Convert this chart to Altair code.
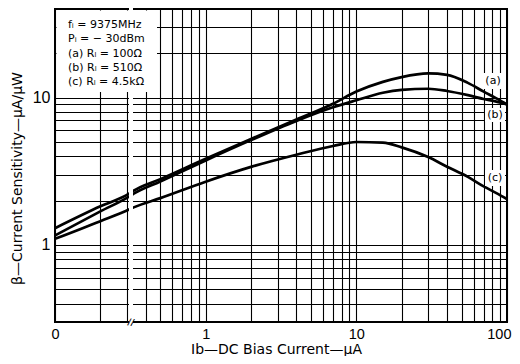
import altair as alt
import pandas as pd

# ---- data (log-log) ----
bias_ua = [0.1, 0.2, 0.31, 0.333, 0.5, 1, 2, 4, 7, 10, 15, 20, 30, 40, 55, 70, 85, 100]
curve_a = [1.30, 1.83, 2.23, 2.34, 2.80, 3.85, 5.25, 7.1, 9.1, 11.0, 12.8, 13.8, 14.6, 14.3, 12.6, 11.0, 9.9, 9.0]
curve_b = [1.16, 1.69, 2.13, 2.23, 2.70, 3.75, 5.15, 6.95, 8.6, 9.6, 10.8, 11.3, 11.5, 11.1, 10.4, 9.8, 9.4, 9.0]
curve_c = [1.10, 1.45, 1.74, 1.80, 2.08, 2.69, 3.39, 4.1, 4.7, 5.0, 4.95, 4.6, 3.95, 3.4, 2.9, 2.5, 2.25, 2.05]
series_names = ["(a)", "(b)", "(c)"]

x_grid = [0.1, 0.2, 0.3, 0.4, 0.5, 0.6, 0.7, 0.8, 0.9,
          1, 2, 3, 4, 5, 6, 7, 8, 9,
          10, 20, 30, 40, 50, 60, 70, 80, 90, 100]
y_grid = [0.4, 0.5, 0.6, 0.7, 0.8, 0.9,
          1, 2, 3, 4, 5, 6, 7, 8, 9,
          10, 20, 30]
legend_lines = ["fᵢ = 9375MHz", "Pᵢ = − 30dBm", "(a)  Rₗ = 100Ω", "(b)  Rₗ = 510Ω", "(c)  Rₗ = 4.5kΩ"]

rows = []
for name, vals in zip(series_names, [curve_a, curve_b, curve_c]):
    for xv, yv in zip(bias_ua, vals):
        rows.append({"x": xv, "y": yv, "s": name})
df = pd.DataFrame(rows)
one = pd.DataFrame({"k": [0]})

FONT = "DejaVu Sans"
W, H = 452, 313

xscale = alt.Scale(type="log", domain=[0.1, 100], nice=False)
yscale = alt.Scale(type="log", domain=[0.3, 40], nice=False)

x_axis = alt.Axis(
    values=x_grid, grid=True, gridColor="black", gridWidth=1.1, gridOpacity=1,
    ticks=False, domain=False, labelOverlap=False, labelFlush=True, labelFlushOffset=4,
    labelExpr="datum.value == 0.1 ? '0' : (datum.value == 1 || datum.value == 10 || datum.value == 100) ? format(datum.value, 'd') : ''",
    labelFont="Liberation Sans", labelFontSize=14.5, labelColor="black", labelPadding=5,
    title="Ib—DC Bias Current—μA", titleFont=FONT, titleFontSize=14, titleFontWeight="normal",
    titleColor="black", titleX=221, titleY=27, titleAlign="center", titleBaseline="middle",
)
y_axis = alt.Axis(
    values=y_grid, grid=True, gridColor="black", gridWidth=1.1, gridOpacity=1,
    ticks=False, domain=False, labelOverlap=False,
    labelExpr="(datum.value == 1 || datum.value == 10) ? format(datum.value, 'd') : ''",
    labelFont="Liberation Sans", labelFontSize=16, labelColor="black", labelPadding=5,
    title="β—Current  Sensitivity—μA/μW", titleFont=FONT, titleFontSize=14, titleFontWeight="normal",
    titleColor="black", titleX=-38, titleY=169, titleAlign="center", titleBaseline="middle",
)

lines = alt.Chart(df).mark_line(color="black", strokeWidth=2.7, interpolate="monotone").encode(
    x=alt.X("x:Q", scale=xscale, axis=x_axis),
    y=alt.Y("y:Q", scale=yscale, axis=y_axis),
    detail="s:N",
)

legend_box = alt.Chart(one).mark_rect(color="white").encode(
    x=alt.value(1.5), x2=alt.value(102), y=alt.value(1.5), y2=alt.value(83)
)
legend_text = alt.Chart(one).mark_text(
    align="left", baseline="middle", lineBreak="\n", lineHeight=14.3,
    font=FONT, fontSize=11, color="black", text="\n".join(legend_lines)
).encode(x=alt.value(13), y=alt.value(16))

break_band = alt.Chart(one).mark_rect(color="white").encode(
    x=alt.value(74), x2=alt.value(78), y=alt.value(84), y2=alt.value(H + 2)
)
break_top = alt.Chart(one).mark_rect(color="white").encode(
    x=alt.value(74), x2=alt.value(78), y=alt.value(-2), y2=alt.value(1.5)
)
break_mark = alt.Chart(one).mark_text(
    font=FONT, fontSize=9, fontWeight="bold", color="black", text="//", angle=10
).encode(x=alt.value(76), y=alt.value(H))

label_bg = alt.Chart(one).mark_rect(color="white").encode(
    x=alt.value(428), x2=alt.value(449), y=alt.value(64), y2=alt.value(80))
label_bg_b = alt.Chart(one).mark_rect(color="white").encode(
    x=alt.value(430), x2=alt.value(450), y=alt.value(99), y2=alt.value(113))
label_bg_c = alt.Chart(one).mark_rect(color="white").encode(
    x=alt.value(430), x2=alt.value(450), y=alt.value(161), y2=alt.value(177))

label_a = alt.Chart(one).mark_text(font=FONT, fontSize=11, color="black", text="(a)").encode(
    x=alt.value(438), y=alt.value(72))
label_b = alt.Chart(one).mark_text(font=FONT, fontSize=11, color="black", text="(b)").encode(
    x=alt.value(440), y=alt.value(106))
label_c = alt.Chart(one).mark_text(font=FONT, fontSize=11, color="black", text="(c)").encode(
    x=alt.value(440), y=alt.value(169))

chart = alt.layer(
    lines, legend_box, legend_text, break_band, break_top, break_mark,
    label_bg, label_bg_b, label_bg_c, label_a, label_b, label_c
).properties(
    width=W, height=H,
    autosize=alt.AutoSizeParams(type="none"),
    padding={"left": 47, "top": 1, "right": 5, "bottom": 34},
    background="white",
).configure_view(
    stroke="black", strokeWidth=2
)

chart.save("out.html", embed_options={"renderer": "svg", "actions": False})
